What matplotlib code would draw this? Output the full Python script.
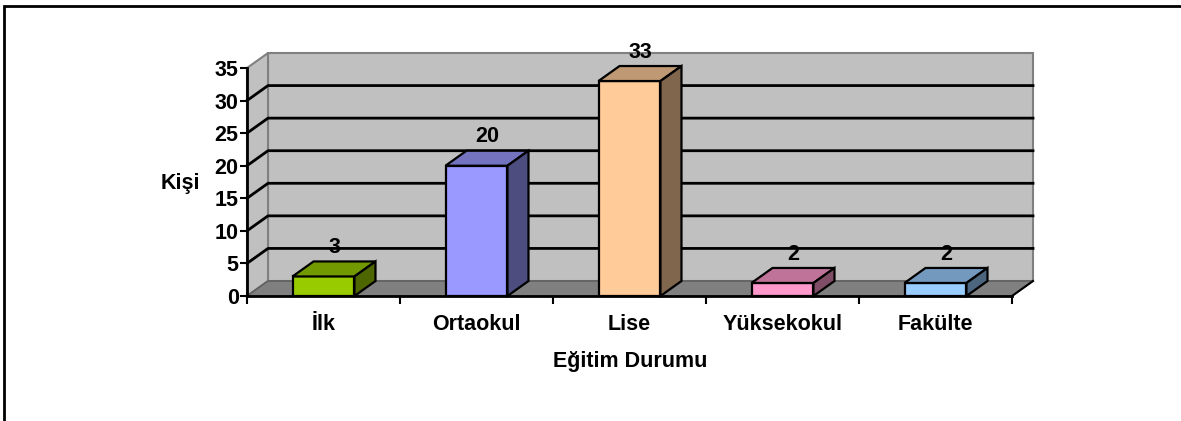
import matplotlib.pyplot as plt
from matplotlib.patches import Polygon, Rectangle

categories = ["İlk", "Ortaokul", "Lise", "Yüksekokul", "Fakülte"]
values = [3, 20, 33, 2, 2]
front_colors = ["#99CC00", "#9999FF", "#FFCC99", "#FF99CC", "#99CCFF"]
top_colors = ["#739900", "#7373BF", "#BF9973", "#BF7399", "#7399BF"]
side_colors = ["#4D6600", "#4D4D80", "#80664D", "#804D66", "#4D6680"]
y_ticks = [0, 5, 10, 15, 20, 25, 30, 35]

plt.rcParams['font.family'] = ['Liberation Sans', 'DejaVu Sans']
plt.rcParams['font.weight'] = 'bold'
FS = 15.5

W, H = 1181, 421
fig = plt.figure(figsize=(W / 100, H / 100), dpi=100)

# front plane of the 3d box, in pixels
x0, x1, ytop, ybot = 247, 1012, 68, 296
ax = fig.add_axes([x0 / W, 1 - ybot / H, (x1 - x0) / W, (ybot - ytop) / H])
ax.set_xlim(-0.5, len(categories) - 0.5)
ax.set_ylim(0, 35)
ax.patch.set_visible(False)

# depth offset in data units (21 px right, 15 px up)
dx = 21 / ((x1 - x0) / len(categories))
dy = 15 / ((ybot - ytop) / 35)
xl, xr = -0.5, len(categories) - 0.5

# back wall, side wall, floor
ax.add_patch(Rectangle((xl + dx, dy), xr - xl, 35, facecolor="#C0C0C0",
                       edgecolor="#808080", lw=1.5, clip_on=False, zorder=0))
ax.add_patch(Polygon([(xl, 0), (xl, 35), (xl + dx, 35 + dy), (xl + dx, dy)],
                     facecolor="#C0C0C0", edgecolor="#808080", lw=1.5,
                     clip_on=False, zorder=0))
ax.add_patch(Polygon([(xl, 0), (xr, 0), (xr + dx, dy), (xl + dx, dy)],
                     facecolor="#808080", edgecolor="#606060", lw=1.2,
                     clip_on=False, zorder=1))
ax.plot([xr, xr + dx], [0, dy], color="black", lw=1.5, clip_on=False, zorder=2)

for t in y_ticks[1:-1]:
    ax.plot([xl, xl + dx, xr + dx], [t, t + dy, t + dy], color="black",
            lw=2, clip_on=False, zorder=1)

# bars
bw = 0.405
for i, v in enumerate(values):
    l, r = i - bw / 2, i + bw / 2
    ax.add_patch(Polygon([(l, 0), (r, 0), (r, v), (l, v)],
                         facecolor=front_colors[i], edgecolor="black", lw=1.6,
                         clip_on=False, zorder=3))
    ax.add_patch(Polygon([(l, v), (r, v), (r + dx, v + dy), (l + dx, v + dy)],
                         facecolor=top_colors[i], edgecolor="black", lw=1.6,
                         clip_on=False, zorder=3))
    ax.add_patch(Polygon([(r, 0), (r + dx, dy), (r + dx, v + dy), (r, v)],
                         facecolor=side_colors[i], edgecolor="black", lw=1.6,
                         clip_on=False, zorder=3))
    ax.text(i + dx / 2, v + dy + 0.5, str(v), ha="center", va="bottom",
            fontsize=FS, fontweight="bold", zorder=4)

# axes lines and ticks
for s in ["top", "right"]:
    ax.spines[s].set_visible(False)
for s in ["left", "bottom"]:
    ax.spines[s].set_linewidth(2)
    ax.spines[s].set_zorder(5)
ax.set_yticks(y_ticks)
ax.tick_params(axis="y", length=5, width=1.5, pad=1, labelsize=FS)
ax.set_xticks([x - 0.5 for x in range(len(categories) + 1)])
ax.set_xticklabels([])
ax.tick_params(axis="x", which="major", length=6, width=1.5)
ax.set_xticks(range(len(categories)), minor=True)
ax.set_xticklabels(categories, minor=True, fontsize=FS, fontweight="bold")
ax.tick_params(axis="x", which="minor", length=0, pad=13)

fig.text(180 / W, 1 - 183 / H, "Kişi", ha="center", va="center",
         fontsize=FS, fontweight="bold")
fig.text(630 / W, 1 - 361 / H, "Eğitim Durumu", ha="center", va="center",
         fontsize=FS, fontweight="bold")

# outer frame
fig.add_artist(Rectangle((4 / W, -0.05), 1.1, 1 - 6 / H + 0.05,
                         transform=fig.transFigure, fill=False,
                         edgecolor="black", lw=2))

fig.savefig("out.png", dpi=100)
